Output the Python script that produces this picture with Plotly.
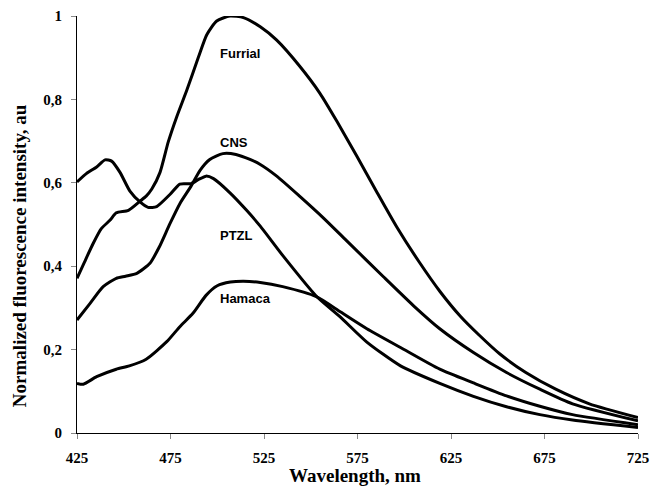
import plotly.graph_objects as go

# Wavelength (nm) and normalized intensity for each sample
furrial_x = [425, 429, 433.7, 438, 442.6, 446, 452.5, 458.7, 462, 465, 469.4, 473.8, 478.3, 483.7, 490, 494.4,
             499.7, 506.8, 514, 523, 531.8, 544, 555, 563.9, 574.6, 585.3, 596, 608, 619, 630, 640, 651,
             665, 681, 699, 725]
furrial_y = [0.371, 0.41, 0.455, 0.49, 0.51, 0.528, 0.534, 0.556, 0.568, 0.585, 0.625, 0.698, 0.758, 0.822, 0.902, 0.955,
             0.988, 1.0, 0.996, 0.974, 0.942, 0.88, 0.814, 0.748, 0.664, 0.578, 0.494, 0.41, 0.34, 0.28, 0.235, 0.19,
             0.145, 0.105, 0.07, 0.037]

cns_x = [425, 432, 439, 446, 451, 457, 464, 469, 474.7, 480, 486, 490.8, 496, 503, 510, 517.5, 523, 531.8,
         544, 556.7, 569, 589, 605, 619, 637, 654.7, 672.5, 690, 725]
cns_y = [0.271, 0.311, 0.351, 0.371, 0.376, 0.383, 0.407, 0.446, 0.502, 0.55, 0.592, 0.63, 0.656, 0.67, 0.668,
         0.656, 0.644, 0.616, 0.568, 0.516, 0.462, 0.374, 0.305, 0.25, 0.193, 0.145, 0.105, 0.07, 0.029]

ptzl_x = [425, 430, 435.5, 440, 443.5, 448, 453.3, 458.7, 463, 467.6, 474.7, 480, 486, 490, 494, 498, 506.8,
          515.7, 523, 535.3, 553, 565.6, 580, 598, 619, 637, 654.7, 672.5, 690, 725]
ptzl_y = [0.602, 0.622, 0.638, 0.655, 0.652, 0.625, 0.58, 0.554, 0.541, 0.543, 0.572, 0.597, 0.598, 0.608, 0.616,
          0.61, 0.576, 0.534, 0.496, 0.424, 0.328, 0.279, 0.218, 0.161, 0.119, 0.088, 0.063, 0.044, 0.031, 0.013]

hamaca_x = [425, 428.4, 435.5, 446, 453, 462, 473, 480, 487, 494, 500, 507, 514, 523, 535, 553, 566, 580,
            598, 619, 637, 654.7, 672.5, 690, 725]
hamaca_y = [0.119, 0.117, 0.135, 0.153, 0.161, 0.177, 0.219, 0.255, 0.287, 0.33, 0.353, 0.362, 0.364, 0.361,
            0.351, 0.327, 0.29, 0.25, 0.205, 0.153, 0.12, 0.089, 0.064, 0.044, 0.02]

series_names = ["Furrial", "CNS", "PTZL", "Hamaca"]
label_x = [500.5, 500.5, 500.5, 500.5]
label_y = [0.909, 0.697, 0.474, 0.323]

x_ticks = [425, 475, 525, 575, 625, 675, 725]
y_ticks = [0, 0.2, 0.4, 0.6, 0.8, 1]
y_tick_text = ["0", "0,2", "0,4", "0,6", "0,8", "1"]

fig = go.Figure()
for name, xs, ys in [("Furrial", furrial_x, furrial_y), ("CNS", cns_x, cns_y),
                     ("PTZL", ptzl_x, ptzl_y), ("Hamaca", hamaca_x, hamaca_y)]:
    fig.add_trace(go.Scatter(x=xs, y=ys, mode="lines", name=name,
                             line=dict(color="black", width=3, shape="spline", smoothing=0.6),
                             showlegend=False, hoverinfo="skip"))

for name, lx, ly in zip(series_names, label_x, label_y):
    fig.add_annotation(x=lx, y=ly, text="<b>%s</b>" % name, showarrow=False,
                       xanchor="left", yanchor="middle",
                       font=dict(family="Liberation Sans, Arial", size=13, color="black"))

serif = "Liberation Serif, Times New Roman, serif"
fig.add_annotation(xref="paper", yref="paper", x=(19 - 77) / 561, y=(433 - 256) / 417.3,
                   text="<b>Normalized fluorescence intensity, au</b>", textangle=-90,
                   showarrow=False, xanchor="center", yanchor="middle",
                   font=dict(family=serif, size=19, color="black"))
fig.add_annotation(xref="paper", yref="paper", x=(355 - 77) / 561, y=-(476 - 433) / 417.3,
                   text="<b>Wavelength, nm</b>", showarrow=False, xanchor="center", yanchor="middle",
                   font=dict(family=serif, size=19, color="black"))

fig.update_layout(
    width=652, height=496,
    margin=dict(l=77, r=14, t=16, b=63, pad=0, autoexpand=False),
    paper_bgcolor="white", plot_bgcolor="white",
    separators=",.",
)
fig.update_xaxes(range=[425, 725], tickvals=x_ticks, ticktext=[str(v) for v in x_ticks], automargin=False,
                 showgrid=False, zeroline=False, showline=True, linecolor="black", linewidth=1,
                 ticks="outside", ticklen=5, tickcolor="#888888", tickwidth=1,
                 tickfont=dict(family=serif, size=15, color="black", weight="bold"), ticklabelstandoff=6)
fig.update_yaxes(range=[0, 1], tickvals=y_ticks, ticktext=y_tick_text, automargin=False,
                 showgrid=False, zeroline=False, showline=True, linecolor="black", linewidth=1,
                 ticks="outside", ticklen=5, tickcolor="#888888", tickwidth=1,
                 tickfont=dict(family=serif, size=15, color="black", weight="bold"), ticklabelstandoff=6)

# remove the default page margin so the 652x496 figure fills the window exactly
fig.write_html("out.html", config={"displayModeBar": False, "staticPlot": True},
               post_script="document.body.style.margin='0px';document.body.style.overflow='hidden';")
